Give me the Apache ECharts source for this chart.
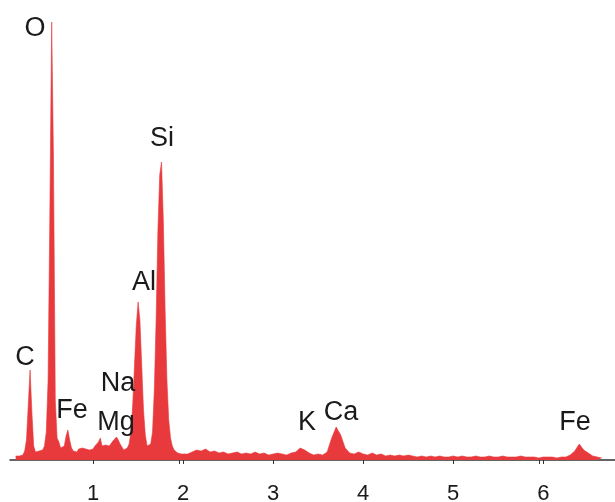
<!DOCTYPE html>
<html>
<head>
<meta charset="utf-8">
<script src="https://cdn.jsdelivr.net/npm/echarts@6/dist/echarts.min.js"></script>
<style>
  html, body { margin: 0; padding: 0; background: #fff; }
  #chart { width: 615px; height: 502px; }
</style>
</head>
<body>
<div id="chart"></div>
<script>
// energy of each channel (keV)
const energyKeV = [
  0.14, 0.16, 0.18, 0.20, 0.22, 0.24, 0.26, 0.28, 0.30, 0.32, 0.34, 0.36, 0.38, 0.40, 0.42, 0.44, 0.46, 0.48, 0.50,
  0.52, 0.54, 0.56, 0.58, 0.60, 0.62, 0.64, 0.66, 0.68, 0.70, 0.72, 0.74, 0.76, 0.78, 0.80, 0.82, 0.84, 0.86, 0.88,
  0.90, 0.92, 0.94, 0.96, 0.98, 1.00, 1.02, 1.04, 1.06, 1.08, 1.10, 1.12, 1.14, 1.16, 1.18, 1.20, 1.22, 1.24, 1.26,
  1.28, 1.30, 1.32, 1.34, 1.36, 1.38, 1.40, 1.42, 1.44, 1.46, 1.48, 1.50, 1.52, 1.54, 1.56, 1.58, 1.60, 1.62, 1.64,
  1.66, 1.68, 1.70, 1.72, 1.74, 1.76, 1.78, 1.80, 1.82, 1.84, 1.86, 1.88, 1.90, 1.92, 1.94, 1.96, 1.98, 2.00,
  2.05, 2.10, 2.15, 2.20, 2.25, 2.30, 2.35, 2.40, 2.45, 2.50, 2.55, 2.60, 2.65, 2.70, 2.75, 2.80, 2.85, 2.90, 2.95,
  3.00, 3.05, 3.10, 3.15, 3.20, 3.25, 3.30, 3.35, 3.40, 3.45, 3.50, 3.55, 3.60, 3.65, 3.70, 3.75, 3.80, 3.85, 3.90,
  3.95, 4.00, 4.05, 4.10, 4.15, 4.20, 4.25, 4.30, 4.35, 4.40, 4.45, 4.50, 4.55, 4.60, 4.65, 4.70, 4.75, 4.80, 4.85,
  4.90, 4.95, 5.00, 5.05, 5.10, 5.15, 5.20, 5.25, 5.30, 5.35, 5.40, 5.45, 5.50, 5.55, 5.60, 5.65, 5.70, 5.75, 5.80,
  5.85, 5.90, 5.95, 6.00, 6.05, 6.10, 6.15, 6.20, 6.25, 6.30, 6.35, 6.40, 6.45, 6.50, 6.55, 6.60, 6.65
];

// counts per channel
const counts = [
  4, 5, 4, 6, 5, 9, 20, 55, 90, 48, 14, 8, 7, 9, 8, 10, 14, 28, 80,
  250, 438, 300, 60, 22, 18, 12, 10, 14, 24, 30, 20, 12, 9, 10, 8, 11, 9, 12,
  10, 11, 13, 10, 12, 11, 14, 15, 18, 22, 14, 12, 15, 13, 14, 16, 19, 21, 23,
  20, 16, 13, 10, 9, 12, 16, 28, 55, 95, 135, 158, 140, 95, 50, 25, 14, 12, 16,
  28, 70, 140, 230, 285, 298, 240, 150, 80, 40, 22, 14, 10, 9, 7, 8, 6, 7,
  6, 8, 10, 9, 11, 8, 9, 7, 8, 6, 7, 8, 6, 7, 6, 8, 6, 7, 5,
  6, 7, 6, 5, 7, 8, 12, 10, 7, 5, 6, 5, 8, 22, 33, 25, 12, 7, 6,
  8, 6, 5, 7, 5, 6, 4, 5, 4, 5, 4, 5, 4, 3, 4, 3, 4, 3, 4,
  3, 3, 4, 3, 4, 3, 3, 4, 3, 3, 4, 3, 3, 4, 3, 3, 3, 4, 3,
  3, 3, 2, 3, 3, 3, 2, 3, 3, 5, 9, 16, 10, 7, 4, 3, 2
];

// element labels: name, energy (keV), height of the label centre (counts)
const peakNames = ['O', 'Si', 'Al', 'C', 'Na', 'Fe', 'Mg', 'K', 'Ca', 'Fe'];
const peakLabelKeV = [0.354, 1.765, 1.565, 0.243, 1.276, 0.765, 1.254, 3.376, 3.753, 6.352];
const peakLabelY = [431, 321, 177, 102, 76, 49, 37, 37, 47, 37];

const tickLabels = [1, 2, 3, 4, 5, 6];
const tickMarks = [1, 1.96, 2, 3, 4, 5, 5.96, 6];

const spectrum = energyKeV.map((e, i) => [e, counts[i]]);
const labelData = peakNames.map((n, i) => ({ name: n, value: [peakLabelKeV[i], peakLabelY[i]] }));

const chart = echarts.init(document.getElementById('chart'));

const option = {
  animation: false,
  backgroundColor: '#fff',
  grid: { left: 10, right: 0, top: 10, bottom: 37, containLabel: false, outerBoundsMode: 'none' },
  xAxis: {
    type: 'value',
    min: 0.077,
    max: 6.797,
    axisLine: { show: true, lineStyle: { color: '#333', width: 1.5 } },
    axisTick: { show: true, customValues: tickMarks, length: 4, lineStyle: { color: '#333', width: 1 } },
    axisLabel: {
      show: true,
      customValues: tickLabels,
      margin: 18,
      fontSize: 22,
      color: '#1a1a1a',
      fontFamily: 'Liberation Sans, Arial, sans-serif'
    },
    splitLine: { show: false }
  },
  yAxis: {
    type: 'value',
    min: -5,
    max: 450,
    show: false,
    splitLine: { show: false }
  },
  series: [
    {
      type: 'line',
      data: spectrum,
      symbol: 'none',
      lineStyle: { color: '#e8393c', width: 0.6 },
      areaStyle: { color: '#e8393c', opacity: 1, origin: 0 },
      z: 2
    },
    {
      type: 'scatter',
      data: labelData,
      symbolSize: 0,
      itemStyle: { opacity: 1 },
      label: {
        show: true,
        position: 'inside',
        formatter: p => p.name,
        fontSize: 27,
        color: '#1a1a1a',
        fontFamily: 'Liberation Sans, Arial, sans-serif'
      },
      emphasis: { disabled: true },
      z: 3
    }
  ]
};

chart.setOption(option);
</script>
</body>
</html>
